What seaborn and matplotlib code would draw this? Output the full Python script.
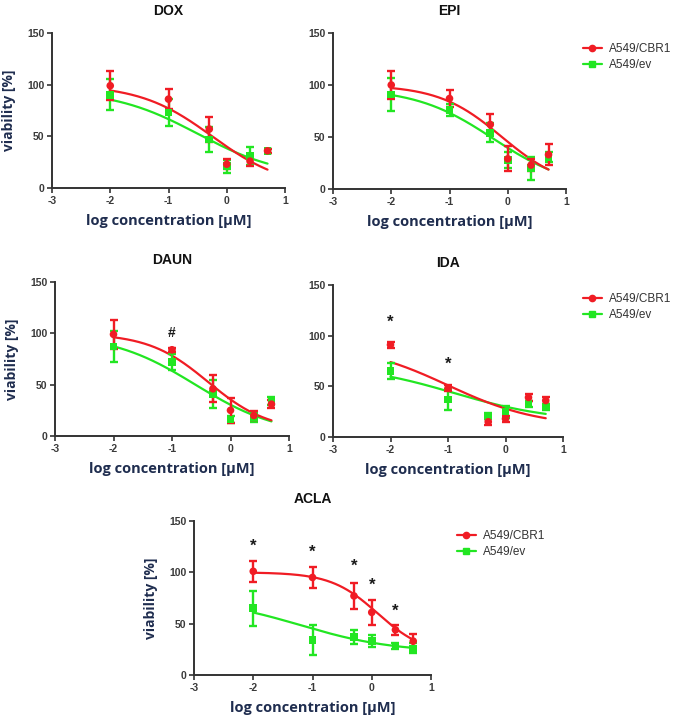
"""
Dose-response curves (viability vs log concentration) for five anthracyclines,
A549/CBR1 vs A549/ev, drawn as 4PL fits with mean +/- SD points.
"""

import numpy as np
import pandas as pd
import matplotlib
matplotlib.use("Agg")
import matplotlib.pyplot as plt
from matplotlib.lines import Line2D
import seaborn as sns

sns.set_style("ticks")
plt.rcParams['font.family'] = ['Liberation Sans', 'DejaVu Sans']
plt.rcParams['axes.unicode_minus'] = False

# log concentration [uM] used in every panel
LOG_CONC = [-2, -1, -0.3, 0, 0.4, 0.7]

# mean viability [%] and SD
dox_cbr1 = [99, 86, 57, 23, 26, 36]
dox_cbr1_sd = [14, 10, 12, 5, 5, 2]
dox_ev = [90, 73, 47, 21, 31, 36]
dox_ev_sd = [15, 13, 12, 6, 9, 2]

epi_cbr1 = [100, 87, 62, 29, 23, 33]
epi_cbr1_sd = [13, 8, 10, 12, 6, 10]
epi_ev = [91, 76, 54, 28, 20, 31]
epi_ev_sd = [16, 6, 9, 8, 11, 5]

daun_cbr1 = [99, 84, 46, 25, 20, 31]
daun_cbr1_sd = [14, 2, 13, 12, 4, 4]
daun_ev = [87, 72, 41, 16, 18, 34]
daun_ev_sd = [15, 8, 14, 3, 4, 4]

ida_cbr1 = [91, 48, 15, 18, 39, 36]
ida_cbr1_sd = [3, 3, 3, 3, 3, 3]
ida_ev = [65, 37, 21, 25, 33, 30]
ida_ev_sd = [8, 10, 3, 6, 3, 3]

acla_cbr1 = [101, 95, 77, 61, 44, 33]
acla_cbr1_sd = [10, 10, 13, 12, 5, 7]
acla_ev = [65, 34, 37, 33, 28, 26]
acla_ev_sd = [17, 15, 7, 6, 3, 5]

# 4PL fit parameters: top, bottom, logIC50, hill
dox_fit_cbr1 = [100, 0, -0.25, 0.7]
dox_fit_ev = [95, 10, -0.5, 0.6]
epi_fit_cbr1 = [100, 0, -0.1, 0.8]
epi_fit_ev = [97, 0, -0.25, 0.65]
daun_fit_cbr1 = [100, 5, -0.38, 0.85]
daun_fit_ev = [100, 0, -0.6, 0.6]
ida_fit_cbr1 = [92, 10, -1.0, 0.55]
ida_fit_ev = [72, 15, -0.9, 0.5]
acla_fit_cbr1 = [100, 20, 0.1, 1.1]
acla_fit_ev = [75, 22, -1.2, 0.55]

# significance marks: (x, y, symbol)
daun_marks = [(-1, 100, '#')]
ida_marks = [(-2, 113, '*'), (-1, 72, '*')]
acla_marks = [(-2, 125, '*'), (-1, 120, '*'), (-0.3, 106, '*'), (0, 87, '*'), (0.4, 62, '*')]

RED = '#f01c24'
GREEN = '#22e622'
NAVY = '#1f2d4f'
TICK_GRAY = '#3a3a3a'

W, H = 676, 720


def four_pl(x, top, bottom, log_ic50, hill):
    return bottom + (top - bottom) / (1 + 10 ** ((x - log_ic50) * hill))


def px_axes(fig, x0, x1, y_bottom, y_top):
    """Axes from pixel coordinates (origin top-left)."""
    return fig.add_axes([x0 / W, 1 - y_bottom / H, (x1 - x0) / W, (y_bottom - y_top) / H])


def draw_panel(ax, title, cbr1, cbr1_sd, ev, ev_sd, fit_cbr1, fit_ev, marks=()):
    points = pd.DataFrame({
        'x': LOG_CONC * 2,
        'y': ev + cbr1,
        'sd': ev_sd + cbr1_sd,
        'line': ['A549/ev'] * len(LOG_CONC) + ['A549/CBR1'] * len(LOG_CONC),
    })
    xs = np.linspace(-2, 0.7, 200)
    curves = pd.DataFrame({
        'x': np.concatenate([xs, xs]),
        'y': np.concatenate([four_pl(xs, *fit_ev), four_pl(xs, *fit_cbr1)]),
        'line': ['A549/ev'] * len(xs) + ['A549/CBR1'] * len(xs),
    })
    palette = {'A549/CBR1': RED, 'A549/ev': GREEN}

    # green underneath, red on top
    for name, marker in [('A549/ev', 's'), ('A549/CBR1', 'o')]:
        c = curves[curves['line'] == name]
        sns.lineplot(data=c, x='x', y='y', color=palette[name], lw=1.6, ax=ax,
                     legend=False, zorder=2)
        p = points[points['line'] == name]
        ax.errorbar(p['x'], p['y'], yerr=p['sd'], fmt='none', ecolor=palette[name],
                    elinewidth=1.7, capsize=2.8, capthick=1.7, zorder=3)
        sns.scatterplot(data=p, x='x', y='y', color=palette[name], marker=marker,
                        s=30, edgecolor='none', ax=ax, legend=False, zorder=4)

    for x, y, sym in marks:
        ax.text(x, y, sym, ha='center', va='center', fontsize=12 if sym == '*' else 10,
                fontweight='bold', color='#1a1a1a')

    ax.set_xlim(-3, 1)
    ax.set_ylim(0, 150)
    ax.set_xticks([-3, -2, -1, 0, 1])
    ax.set_yticks([0, 50, 100, 150])
    sns.despine(ax=ax)
    for s in ['left', 'bottom']:
        ax.spines[s].set_linewidth(1.4)
        ax.spines[s].set_color('#333333')
    ax.tick_params(length=3.5, width=1.2, color='#333333', labelsize=7.5,
                   labelcolor=TICK_GRAY, pad=2)
    for lab in ax.get_xticklabels() + ax.get_yticklabels():
        lab.set_fontweight('bold')
    ax.set_title(title, fontsize=10, fontweight='bold', pad=13, color='#111111')
    ax.set_xlabel('log concentration [µM]', fontsize=10.5, fontweight='bold',
                  color=NAVY, family=['Open Sans', 'DejaVu Sans'], labelpad=6)
    ax.set_ylabel('viability [%]', fontsize=10, fontweight='bold',
                  color=NAVY, family=['Open Sans', 'DejaVu Sans'], labelpad=8)


def add_legend(fig, x_px, y_px):
    handles = [
        Line2D([], [], color=RED, marker='o', markersize=4.5, lw=1.6),
        Line2D([], [], color=GREEN, marker='s', markersize=4.5, lw=1.6),
    ]
    fig.legend(handles, ['A549/CBR1', 'A549/ev'], loc='upper left',
               bbox_to_anchor=(x_px / W, 1 - y_px / H), frameon=False,
               fontsize=8.5, handlelength=1.6, handletextpad=0.6, labelspacing=0.35,
               labelcolor='#333333', borderaxespad=0)


fig = plt.figure(figsize=(W / 100, H / 100), dpi=100)

ax = px_axes(fig, 52, 285, 188, 33)
draw_panel(ax, 'DOX', dox_cbr1, dox_cbr1_sd, dox_ev, dox_ev_sd, dox_fit_cbr1, dox_fit_ev)

ax = px_axes(fig, 333, 566, 189, 33)
draw_panel(ax, 'EPI', epi_cbr1, epi_cbr1_sd, epi_ev, epi_ev_sd, epi_fit_cbr1, epi_fit_ev)
ax.set_ylabel('')
add_legend(fig, 578, 38)

ax = px_axes(fig, 55, 289, 436, 282)
draw_panel(ax, 'DAUN', daun_cbr1, daun_cbr1_sd, daun_ev, daun_ev_sd,
           daun_fit_cbr1, daun_fit_ev, daun_marks)

ax = px_axes(fig, 333, 563, 437, 285)
draw_panel(ax, 'IDA', ida_cbr1, ida_cbr1_sd, ida_ev, ida_ev_sd,
           ida_fit_cbr1, ida_fit_ev, ida_marks)
ax.set_ylabel('')
add_legend(fig, 578, 288)

ax = px_axes(fig, 194, 431, 675, 521)
draw_panel(ax, 'ACLA', acla_cbr1, acla_cbr1_sd, acla_ev, acla_ev_sd,
           acla_fit_cbr1, acla_fit_ev, acla_marks)
add_legend(fig, 452, 525)

fig.savefig('out.png', dpi=100)
